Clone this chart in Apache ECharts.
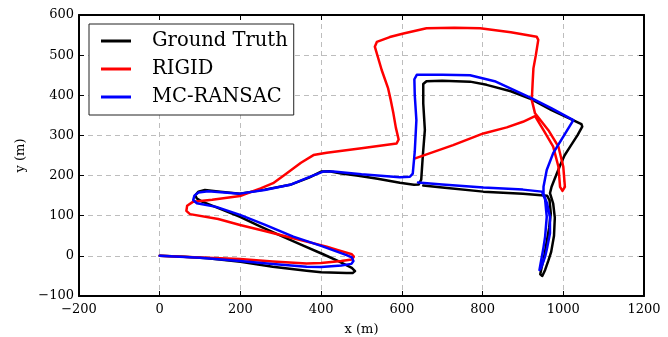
<!DOCTYPE html>
<html>
<head>
<meta charset="utf-8">
<script src="https://cdn.jsdelivr.net/npm/echarts@6/dist/echarts.min.js"></script>
<style>
  html, body { margin: 0; padding: 0; background: #fff; }
  #chart { width: 668px; height: 337px; }
</style>
</head>
<body>
<div id="chart"></div>
<script>
// trajectories in metres, [x, y]
const groundTruth = [
    [0, 0], [60, -2], [120, -6], [200, -15], [280, -27], [364, -37], [400, -41], [463, -43], [478, -43], [484, -38],
    [476, -30], [440, -12], [405, 4], [350, 28], [305, 48], [250, 73], [199, 97], [150, 117], [105, 135], [92, 143],
    [88, 151], [96, 160], [112, 164], [150, 160], [199, 155], [260, 165], [323, 177], [370, 195], [400, 210], [420, 211],
    [450, 205], [488, 200], [540, 192], [595, 182], [630, 177], [642, 178], [648, 190], [652, 250], [657, 314], [653, 380],
    [653, 428], [661, 435], [700, 436], [769, 434], [810, 426], [870, 410], [917, 392], [971, 363], [1020, 340], [1045, 328],
    [1047, 322], [1035, 300], [1017, 272], [1003, 250], [992, 225], [980, 195], [971, 172], [967, 156], [975, 130], [979, 95],
    [977, 50], [970, 10], [963, -12], [955, -35], [948, -50], [943, -46], [946, -30], [952, -5], [958, 30], [965, 70],
    [969, 106], [966, 138], [960, 150], [900, 155], [802, 160], [700, 170], [653, 175]
];
const rigid = [
    [0, 0], [100, -4], [199, -8], [280, -14], [364, -19], [400, -18], [450, -13], [476, -9], [481, -2], [476, 4],
    [440, 15], [414, 23], [331, 44], [260, 62], [199, 77], [145, 92], [75, 104], [66, 112], [68, 125], [83, 135],
    [130, 140], [199, 149], [250, 168], [281, 181], [315, 206], [350, 232], [381, 251], [414, 257], [500, 268], [587, 280],
    [592, 290], [585, 320], [579, 355], [572, 390], [566, 417], [550, 463], [533, 521], [538, 533], [570, 545], [604, 554],
    [661, 567], [730, 568], [794, 567], [870, 557], [934, 546], [938, 538], [932, 500], [926, 467], [924, 430], [922, 388],
    [930, 355], [963, 313], [988, 272], [1000, 222], [1004, 172], [998, 162], [992, 172], [988, 222], [975, 272], [951, 313],
    [930, 348], [900, 334], [860, 320], [802, 305], [727, 276], [633, 243]
];
const mcRansac = [
    [0, 0], [100, -5], [199, -13], [280, -20], [364, -27], [400, -28], [450, -24], [475, -20], [480, -13], [476, -4],
    [463, 2], [400, 25], [331, 48], [260, 78], [199, 102], [140, 122], [92, 131], [83, 139], [86, 150], [96, 158],
    [120, 161], [199, 155], [260, 164], [323, 177], [370, 196], [405, 210], [430, 210], [500, 203], [595, 196], [620, 197],
    [627, 205], [632, 260], [636, 338], [632, 400], [631, 440], [637, 451], [700, 451], [769, 450], [830, 435], [917, 395],
    [970, 368], [1025, 338], [1000, 297], [975, 256], [959, 214], [951, 172], [951, 155], [960, 130], [967, 97], [967, 56],
    [960, 20], [955, -2], [945, -30], [941, -35], [944, -18], [950, 15], [955, 48], [959, 97], [955, 140], [947, 160],
    [900, 165], [802, 170], [700, 178], [640, 183]
];
const seriesNames = ['Ground Truth', 'RIGID', 'MC-RANSAC'];
const seriesColors = ['#000000', '#ff0000', '#0000ff'];

const font = 'DejaVu Serif';
const minus = (v) => String(v).replace('-', '\u2212');

const chart = echarts.init(document.getElementById('chart'));

// dashed grid, but not on the frame itself
const gridLine = { show: true, showMinLine: false, showMaxLine: false, lineStyle: { color: '#bdbdbd', width: 1, type: [5, 4] } };
const tick = { show: true, inside: true, length: 5, lineStyle: { color: '#000', width: 1 } };
const frame = { show: true, onZero: false, lineStyle: { color: '#000', width: 2 } };

const xBase = { type: 'value', min: -200, max: 1200, interval: 200 };
const yBase = { type: 'value', min: -100, max: 600, interval: 100 };

const option = {
    animation: false,
    grid: { left: 79, right: 24, top: 15, bottom: 41, outerBoundsMode: 'none', containLabel: false },
    xAxis: [
        {
            ...xBase,
            name: 'x (m)',
            nameLocation: 'middle',
            nameGap: 27,
            nameTextStyle: { fontFamily: font, fontSize: 13, color: '#000' },
            axisLine: frame,
            axisTick: tick,
            axisLabel: { fontFamily: font, fontSize: 13, color: '#000', margin: 7, showMinLabel: true, showMaxLabel: true, formatter: minus },
            splitLine: gridLine
        },
        {
            ...xBase,
            position: 'top',
            axisLine: frame,
            axisTick: tick,
            axisLabel: { show: false },
            splitLine: { show: false }
        }
    ],
    yAxis: [
        {
            ...yBase,
            name: 'y (m)',
            nameLocation: 'middle',
            nameGap: 52,
            nameTextStyle: { fontFamily: font, fontSize: 13, color: '#000' },
            axisLine: frame,
            axisTick: tick,
            axisLabel: { fontFamily: font, fontSize: 13, color: '#000', margin: 5, showMinLabel: true, showMaxLabel: true, formatter: minus },
            splitLine: gridLine
        },
        {
            ...yBase,
            position: 'right',
            axisLine: frame,
            axisTick: tick,
            axisLabel: { show: false },
            splitLine: { show: false }
        }
    ],
    legend: {
        orient: 'vertical',
        left: 89,
        top: 24,
        padding: [7, 6, 8, 12],
        itemGap: 8,
        itemWidth: 30,
        itemHeight: 3,
        icon: 'rect',
        borderColor: '#222',
        borderWidth: 1,
        borderRadius: 0,
        backgroundColor: '#fff',
        data: seriesNames,
        textStyle: { fontFamily: font, fontSize: 19.5, color: '#000', lineHeight: 20, padding: [0, 0, 0, 16] }
    },
    series: [groundTruth, rigid, mcRansac].map((path, i) => ({
        name: seriesNames[i],
        type: 'line',
        data: path,
        showSymbol: false,
        symbol: 'none',
        color: seriesColors[i],
        lineStyle: { color: seriesColors[i], width: 2.5, join: 'round', cap: 'round' },
        emphasis: { disabled: true },
        z: 2 + i
    }))
};

chart.setOption(option);
</script>
</body>
</html>
